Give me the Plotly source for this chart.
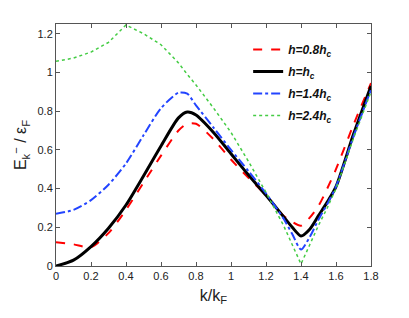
import plotly.graph_objects as go

k = [0, 0.1, 0.2, 0.3, 0.4, 0.5, 0.6, 0.7, 0.75, 0.8, 0.9, 1.0, 1.1, 1.2, 1.3, 1.35, 1.4, 1.45, 1.5, 1.55, 1.6, 1.7, 1.8]

e_08 = [0.123, 0.112, 0.097, 0.17, 0.29, 0.43, 0.57, 0.70, 0.735, 0.735, 0.655, 0.55, 0.455, 0.365, 0.26, 0.228, 0.208, 0.25, 0.31, 0.40, 0.50, 0.73, 0.945]
e_10 = [0.0, 0.03, 0.10, 0.195, 0.315, 0.465, 0.62, 0.765, 0.795, 0.78, 0.69, 0.58, 0.47, 0.365, 0.255, 0.20, 0.155, 0.19, 0.26, 0.33, 0.41, 0.68, 0.93]
e_14 = [0.27, 0.29, 0.34, 0.42, 0.53, 0.675, 0.815, 0.895, 0.89, 0.83, 0.715, 0.60, 0.49, 0.375, 0.245, 0.165, 0.085, 0.15, 0.24, 0.32, 0.41, 0.67, 0.91]
e_24 = [1.057, 1.074, 1.105, 1.155, 1.245, 1.20, 1.143, 1.049, 0.99, 0.935, 0.816, 0.69, 0.54, 0.38, 0.21, 0.11, 0.01, 0.11, 0.21, 0.30, 0.40, 0.66, 0.90]

names = ["<b><i>h=0.8h<sub>c</sub></i></b>", "<b><i>h=h<sub>c</sub></i></b>",
         "<b><i>h=1.4h<sub>c</sub></i></b>", "<b><i>h=2.4h<sub>c</sub></i></b>"]

x_ticks = [0, 0.2, 0.4, 0.6, 0.8, 1.0, 1.2, 1.4, 1.6, 1.8]
x_labels = ["0", "0.2", "0.4", "0.6", "0.8", "1", "1.2", "1.4", "1.6", "1.8"]
y_ticks = [0, 0.2, 0.4, 0.6, 0.8, 1.0, 1.2]
y_labels = ["0", "0.2", "0.4", "0.6", "0.8", "1", "1.2"]

fig = go.Figure()
styles = [
    dict(color="#ff0000", width=2, dash="dash", shape="spline", smoothing=0.7),
    dict(color="#000000", width=3, dash="solid", shape="spline", smoothing=0.7),
    dict(color="#2244ff", width=2, dash="dashdot", shape="spline", smoothing=0.7),
    dict(color="#44cc44", width=1.5, dash="dot", shape="linear"),
]
for i, (ys, nm, st) in enumerate(zip([e_08, e_10, e_14, e_24], names, styles)):
    fig.add_trace(go.Scatter(x=k, y=ys, mode="lines", name=nm, legendgroup=f"g{i}",
                             line=st))

axis_common = dict(showgrid=False, zeroline=False, showline=True, mirror="ticks",
                   linecolor="#555555", linewidth=1, ticks="inside", ticklen=4,
                   tickcolor="#555555", tickfont=dict(family="Liberation Sans, Arial", size=11, color="#222"))

fig.update_layout(
    width=409, height=318,
    margin=dict(l=45, r=46, t=16, b=60),
    paper_bgcolor="white", plot_bgcolor="white",
    xaxis=dict(range=[0, 1.8], tickvals=x_ticks, ticktext=x_labels,
               title=dict(text="k/k<sub>F</sub>", font=dict(family="Liberation Sans, Arial", size=16, color="#222"), standoff=8),
               **axis_common),
    yaxis=dict(range=[0, 1.25], tickvals=y_ticks, ticktext=y_labels,
               title=dict(text="E<sub>k</sub><sup>−</sup> / ε<sub>F</sub>", font=dict(family="Liberation Sans, Arial", size=16, color="#222"), standoff=6),
               **axis_common),
    legend=dict(x=0.61, y=0.955, xanchor="left", yanchor="top", bgcolor="rgba(0,0,0,0)",
                font=dict(family="Liberation Sans, Arial", size=12, color="#111"),
                tracegroupgap=3),
    showlegend=True,
)

fig.write_html("out.html")
